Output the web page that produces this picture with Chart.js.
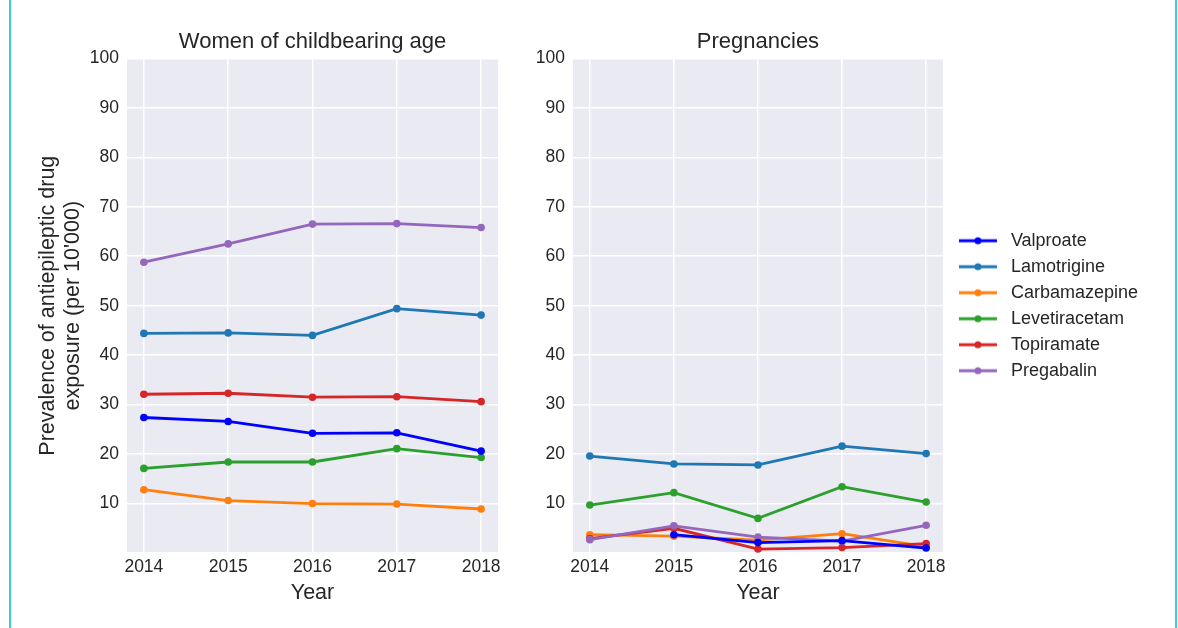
<!DOCTYPE html>
<html><head><meta charset="utf-8">
<script src="https://cdn.jsdelivr.net/npm/chart.js@4.4.1/dist/chart.umd.min.js"></script>
<style>
html,body{margin:0;padding:0;background:#fff;width:1178px;height:628px;overflow:hidden;}
#c1{position:absolute;left:0;top:0;}
#c2{position:absolute;left:520px;top:0;}
.bl{position:absolute;top:0;height:628px;width:2px;background:#3fc7da;}
</style></head><body>
<div class="bl" style="left:9px"></div>
<div class="bl" style="left:1175px"></div>
<canvas id="c1" width="520" height="628"></canvas>
<canvas id="c2" width="658" height="628"></canvas>
<script>
const years = [2014, 2015, 2016, 2017, 2018];
const drugNames = ['Valproate', 'Lamotrigine', 'Carbamazepine', 'Levetiracetam', 'Topiramate', 'Pregabalin'];
const drugColors = ['#0000ff', '#1f77b4', '#ff7f0e', '#2ca02c', '#d62728', '#9467bd'];
const drugOrder = [0, 5, 4, 3, 2, 1];
const yTickValues = [10, 20, 30, 40, 50, 60, 70, 80, 90, 100];

// Women of childbearing age
const womenValproate     = [27.4, 26.6, 24.2, 24.3, 20.6];
const womenLamotrigine   = [44.4, 44.5, 44.0, 49.4, 48.1];
const womenCarbamazepine = [12.8, 10.6, 10.0, 9.9, 8.9];
const womenLevetiracetam = [17.1, 18.4, 18.4, 21.1, 19.3];
const womenTopiramate    = [32.1, 32.3, 31.5, 31.6, 30.6];
const womenPregabalin    = [58.8, 62.5, 66.5, 66.6, 65.8];

// Pregnancies
const pregValproate     = [null, 3.7, 2.1, 2.5, 1.0];
const pregLamotrigine   = [19.6, 18.0, 17.8, 21.6, 20.1];
const pregCarbamazepine = [3.7, 3.4, 2.6, 3.9, 1.3];
const pregLevetiracetam = [9.7, 12.2, 7.0, 13.4, 10.3];
const pregTopiramate    = [2.9, 5.0, 0.8, 1.1, 1.9];
const pregPregabalin    = [2.7, 5.5, 3.2, 2.4, 5.6];

const womenSeries = [womenValproate, womenLamotrigine, womenCarbamazepine, womenLevetiracetam, womenTopiramate, womenPregabalin];
const pregSeries = [pregValproate, pregLamotrigine, pregCarbamazepine, pregLevetiracetam, pregTopiramate, pregPregabalin];

const FONT = "'Liberation Sans', Arial, sans-serif";
const TXT = '#262626';

function makeDatasets(series) {
  return series.map((vals, i) => ({
    label: drugNames[i],
    data: vals.map((v, j) => ({x: years[j], y: v})),
    borderColor: drugColors[i],
    backgroundColor: drugColors[i],
    borderWidth: 2.8,
    pointRadius: 3.8,
    pointBorderWidth: 0,
    pointBackgroundColor: drugColors[i],
    order: drugOrder[i],
    tension: 0,
    spanGaps: false
  }));
}

function legendIcon(color) {
  const c = document.createElement('canvas');
  c.width = 51; c.height = 12;
  const g = c.getContext('2d');
  g.strokeStyle = color; g.lineWidth = 2.8;
  g.beginPath(); g.moveTo(8, 6); g.lineTo(46, 6); g.stroke();
  g.fillStyle = color;
  g.beginPath(); g.arc(27, 6, 3.5, 0, Math.PI * 2); g.fill();
  return c;
}

const bgPlugin = {
  id: 'plotBg',
  beforeDraw(chart) {
    const {ctx, chartArea} = chart;
    ctx.save();
    ctx.fillStyle = '#eaeaf2';
    ctx.fillRect(chartArea.left, chartArea.top, chartArea.right - chartArea.left, chartArea.bottom - chartArea.top);
    ctx.restore();
  }
};

function makeOptions(titleText, isLeft) {
  return {
    responsive: false,
    animation: false,
    devicePixelRatio: 1,
    events: [],
    layout: {padding: {left: 0, right: isLeft ? 22 : 30, top: 0, bottom: 0}},
    plugins: {
      tooltip: {enabled: false},
      title: {
        display: true, text: titleText, color: TXT, fullSize: false,
        font: {family: FONT, size: 22, weight: 'normal', lineHeight: 1.2},
        padding: {top: 29, bottom: 3}
      },
      legend: isLeft ? {display: false} : {
        display: true, position: 'right', align: 'center', fullSize: false, maxWidth: 320,
        labels: {
          usePointStyle: true, pointStyleWidth: 51, boxHeight: 18, padding: 8,
          color: TXT, font: {family: FONT, size: 18},
          generateLabels(chart) {
            return chart.data.datasets.map((ds, i) => ({
              text: ds.label, fillStyle: ds.borderColor, strokeStyle: ds.borderColor,
              lineWidth: 0, pointStyle: legendIcon(ds.borderColor), datasetIndex: i,
              hidden: false, fontColor: TXT
            }));
          }
        }
      }
    },
    scales: {
      x: {
        type: 'linear', min: 2013.8, max: 2018.2,
        afterBuildTicks(scale) { scale.ticks = years.map(v => ({value: v})); },
        afterFit(scale) { scale.height = 75; },
        ticks: {
          callback: v => String(v), color: TXT, padding: 3.5, maxRotation: 0, autoSkip: false,
          font: {family: FONT, size: 17.5}
        },
        grid: {color: '#ffffff', lineWidth: 1.5, drawTicks: false},
        border: {display: false},
        title: {
          display: true, text: 'Year', color: TXT,
          font: {family: FONT, size: 21.5, lineHeight: 1.2},
          padding: {top: 0, bottom: 22}
        }
      },
      y: {
        type: 'linear', min: 0, max: 100,
        afterBuildTicks(scale) { scale.ticks = [0].concat(yTickValues).map(v => ({value: v})); },
        afterFit(scale) { scale.width = isLeft ? 127 : 53; },
        ticks: {
          callback: v => (v === 0 ? '' : String(v)), color: TXT, padding: 8,
          font: {family: FONT, size: 17.5}
        },
        grid: {color: '#ffffff', lineWidth: 1.5, drawTicks: false},
        border: {display: false},
        title: {
          display: isLeft,
          text: ['Prevalence of antiepileptic drug', "exposure (per 10'000)"],
          color: TXT,
          font: {family: FONT, size: 21.5, lineHeight: '25px'},
          padding: {top: 35.5, bottom: 0}
        }
      }
    }
  };
}

new Chart(document.getElementById('c1'), {
  type: 'line',
  data: {datasets: makeDatasets(womenSeries)},
  options: makeOptions('Women of childbearing age', true),
  plugins: [bgPlugin]
});

new Chart(document.getElementById('c2'), {
  type: 'line',
  data: {datasets: makeDatasets(pregSeries)},
  options: makeOptions('Pregnancies', false),
  plugins: [bgPlugin]
});
</script>
</body></html>
